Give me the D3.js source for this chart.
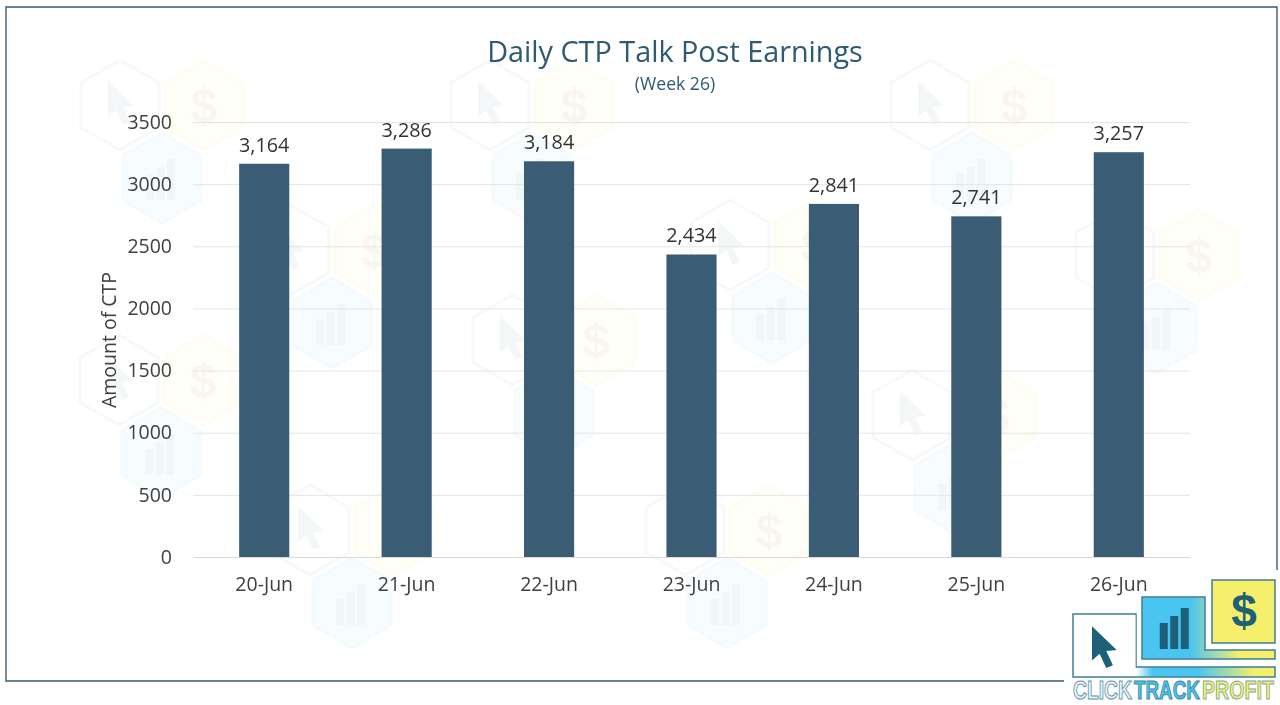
<!DOCTYPE html>
<html>
<head>
<meta charset="utf-8">
<script src="https://cdn.jsdelivr.net/npm/d3@7"></script>
<style>
  html, body { margin: 0; padding: 0; background: #fff; }
  text { font-family: "Open Sans", sans-serif; }
</style>
</head>
<body>
<svg id="chart" width="1280" height="705"></svg>
<script>
const days = ['20-Jun', '21-Jun', '22-Jun', '23-Jun', '24-Jun', '25-Jun', '26-Jun']
const earnings = [3164, 3286, 3184, 2434, 2841, 2741, 3257]
const yTicks = [0, 500, 1000, 1500, 2000, 2500, 3000, 3500]

// faded logo hexagons behind the chart, [x, y] of the cursor hexagon
const watermarkSpots = [[120, 105], [490, 105], [930, 105], [290, 250], [730, 245],
  [1115, 255], [512, 340], [119, 380], [912, 415], [310, 530], [685, 530]]

const width = 1280
const height = 705
const marginTop = 122
const marginRight = 90
const marginBottom = 148
const marginLeft = 193
const navy = '#3a5c74'
const ink = '#404040'
const logoInk = '#1d6079'
const logoLine = '#3f7f95'
const sky = '#4ac4f0'
const lemon = '#f5ef6b'

const svg = d3.select('#chart')
const xScale = d3.scaleBand().domain(days).range([marginLeft, width - marginRight]).paddingInner(0.648).paddingOuter(0.324)
const yScale = d3.scaleLinear().domain([0, 3500]).range([height - marginBottom, marginTop])

const hexPath = (cx, cy, r) => d3.line()(d3.range(6).map((i) => {
  const a = Math.PI / 3 * i + Math.PI / 6
  return [cx + r * Math.cos(a), cy + r * Math.sin(a)]
})) + 'Z'
const cursorPath = 'M0 -24L0 12L8 5L15 20L22 17L15 2L26 1Z'
const dollar = (g, x, y, size, fill) => g.append('text').attr('x', x).attr('y', y)
  .attr('text-anchor', 'middle').attr('font-size', size).attr('font-weight', 700)
  .style('font-family', '"Liberation Sans", sans-serif')
  .attr('fill', fill).text('$')
const minis = (g, x, y, fill) => [26, 33, 41].forEach((h, i) => {
  g.append('rect').attr('x', x + (i - 1.5) * 10.5).attr('y', y - h)
    .attr('width', 8).attr('height', h).attr('fill', fill)
})

// watermark
const wm = svg.append('g').attr('opacity', 0.45)
watermarkSpots.forEach(([x, y]) => {
  const g = wm.append('g')
  g.append('path').attr('d', hexPath(x, y, 45)).attr('fill', '#fff').attr('stroke', '#eef1f2').attr('stroke-width', 3)
  g.append('path').attr('d', cursorPath).attr('transform', `translate(${x - 12},${y})`).attr('fill', '#e6ecef')
  g.append('path').attr('d', hexPath(x + 84, y, 45)).attr('fill', '#fffef0').attr('stroke', '#fdfbe0').attr('stroke-width', 3)
  dollar(g, x + 84, y + 17, 48, '#eeeedd')
  g.append('path').attr('d', hexPath(x + 42, y + 73, 45)).attr('fill', '#eef8fc').attr('stroke', '#e6f4fa').attr('stroke-width', 3)
  minis(g, x + 42, y + 95, '#dfecf1')
})

// frame
svg.append('path').attr('fill', 'none').attr('stroke', navy).attr('stroke-width', 1.4)
  .attr('d', d3.line()([[1064, 681], [6, 681], [6, 7], [1277, 7], [1277, 570]]))

// logo, bottom right
const grad = svg.append('defs').append('linearGradient').attr('id', 'band')
  .attr('gradientUnits', 'userSpaceOnUse').attr('x1', 1136).attr('x2', 1275).attr('y1', 0).attr('y2', 0)
grad.append('stop').attr('offset', '0%').attr('stop-color', '#fff')
grad.append('stop').attr('offset', '12%').attr('stop-color', sky)
grad.append('stop').attr('offset', '45%').attr('stop-color', sky)
grad.append('stop').attr('offset', '85%').attr('stop-color', lemon)
grad.append('stop').attr('offset', '100%').attr('stop-color', lemon)
const grad2 = svg.select('defs').append('linearGradient').attr('id', 'band2')
  .attr('gradientUnits', 'userSpaceOnUse').attr('x1', 1190).attr('x2', 1240).attr('y1', 0).attr('y2', 0)
grad2.append('stop').attr('offset', '0%').attr('stop-color', sky)
grad2.append('stop').attr('offset', '100%').attr('stop-color', lemon)

const logo = svg.append('g')
logo.append('rect').attr('x', 1066).attr('y', 572).attr('width', 214).attr('height', 133).attr('fill', '#fff')
const lShape = (x0, y0, xIn, yIn, x1, y1) => d3.line()([[x0, y0], [xIn, y0], [xIn, yIn], [x1, yIn], [x1, y1], [x0, y1]]) + 'Z'
logo.append('path').attr('d', lShape(1073, 614, 1136, 667, 1275, 677)).attr('fill', 'url(#band)').attr('stroke', logoLine).attr('stroke-width', 1.5)
logo.append('rect').attr('x', 1074).attr('y', 615).attr('width', 61.5).attr('height', 61).attr('fill', '#fff')
logo.append('path').attr('d', lShape(1142, 597, 1205, 650, 1275, 659)).attr('fill', 'url(#band2)').attr('stroke', logoLine).attr('stroke-width', 1.5)
logo.append('rect').attr('x', 1212).attr('y', 580).attr('width', 63).attr('height', 63).attr('fill', lemon).attr('stroke', logoLine).attr('stroke-width', 1.5)
logo.append('path').attr('d', cursorPath).attr('transform', 'translate(1092,649) scale(0.95)').attr('fill', logoInk)
minis(logo, 1175.5, 649, logoInk)
dollar(logo, 1244, 627, 46, logoInk)

// squeeze each word sideways to its measured width
const brandParts = [['CLICK', 1073, 59, '#eef8fb', '#5c94a8'], ['TRACK', 1134, 66, sky, '#3a86a5'], ['PROFIT', 1202, 72, lemon, '#7fa8a0']]
brandParts.forEach(([word, x, w, fill, line]) => {
  const t = logo.append('text').attr('font-size', 25).attr('font-weight', 700)
    .style('font-family', '"Liberation Sans", sans-serif')
    .attr('fill', fill).attr('stroke', line).attr('stroke-width', 1).text(word)
  const natural = t.node().getComputedTextLength()
  t.attr('transform', `translate(${x},699) scale(${w / natural},1)`)
})

// grid and axes
svg.append('g').attr('transform', `translate(${marginLeft},0)`)
  .call(d3.axisLeft(yScale).tickValues(yTicks).tickFormat(d3.format('d')).tickSize(-(width - marginLeft - marginRight)).tickPadding(21))
  .call((g) => g.select('.domain').remove())
  .call((g) => g.selectAll('.tick line').attr('stroke', '#e4e4e4').attr('stroke-width', 1))
  .call((g) => g.selectAll('.tick text').attr('fill', ink).attr('font-size', 19.5).attr('font-family', '"Open Sans", sans-serif'))

svg.append('g').attr('transform', `translate(0,${height - marginBottom})`)
  .call(d3.axisBottom(xScale).tickSize(0).tickPadding(20))
  .call((g) => g.select('.domain').attr('stroke', '#d9d9d9'))
  .call((g) => g.selectAll('.tick text').attr('fill', ink).attr('font-size', 19.5).attr('font-family', '"Open Sans", sans-serif'))

// bars
svg.append('g').attr('fill', navy).selectAll('rect').data(earnings).join('rect')
  .attr('x', (d, i) => xScale(days[i]))
  .attr('y', (d) => yScale(d))
  .attr('width', xScale.bandwidth())
  .attr('height', (d) => yScale(0) - yScale(d))

svg.append('g').selectAll('text').data(earnings).join('text')
  .attr('x', (d, i) => xScale(days[i]) + xScale.bandwidth() / 2)
  .attr('y', (d) => yScale(d) - 12)
  .attr('text-anchor', 'middle').attr('font-size', 19.8).attr('fill', '#333')
  .text(d3.format(','))

// titles
svg.append('text').attr('x', 675).attr('y', 62).attr('text-anchor', 'middle')
  .attr('font-size', 28.8).attr('fill', '#2f5a74').text('Daily CTP Talk Post Earnings')
svg.append('text').attr('x', 675).attr('y', 90).attr('text-anchor', 'middle')
  .attr('font-size', 17.6).attr('fill', '#2f5a74').text('(Week 26)')
svg.append('text').attr('transform', 'translate(116,340) rotate(-90)').attr('text-anchor', 'middle')
  .attr('font-size', 19.5).attr('fill', ink).text('Amount of CTP')
</script>
</body>
</html>
